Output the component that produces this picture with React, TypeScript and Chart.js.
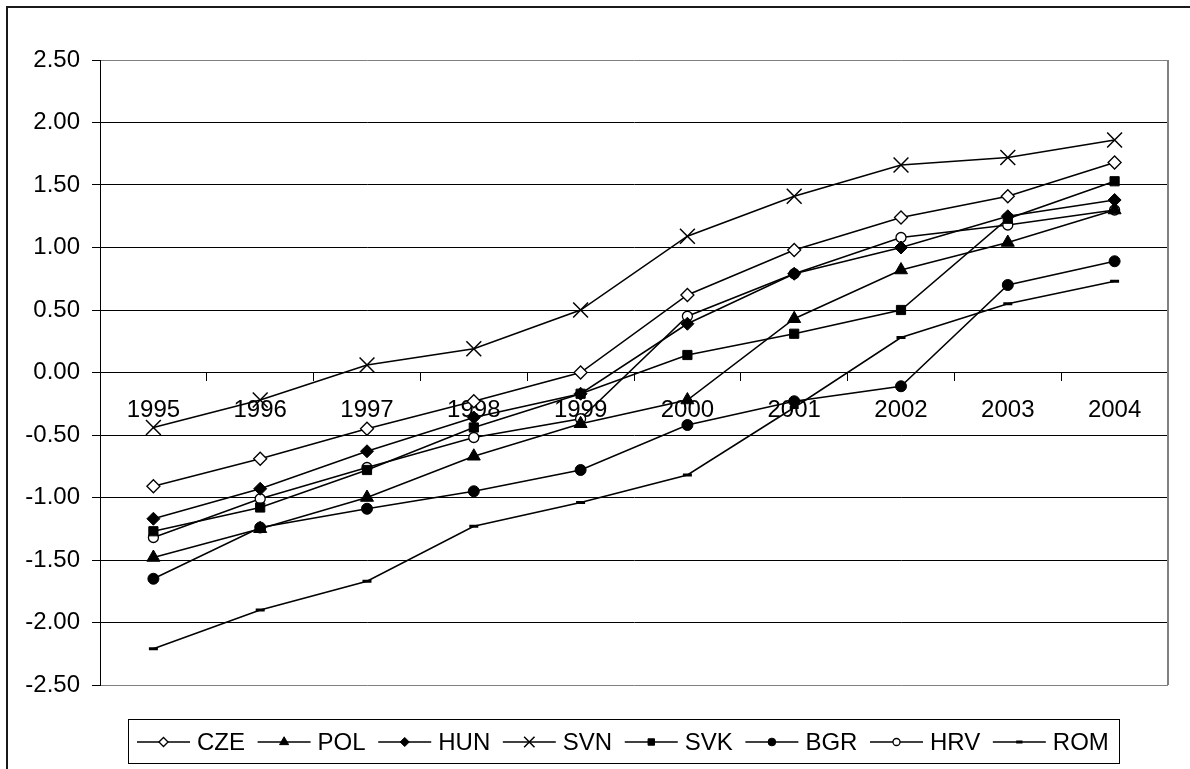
import React, { useEffect, useRef } from 'react';
import { Chart, registerables } from 'chart.js';
import { drawPoint } from 'chart.js/helpers';

Chart.register(...registerables);

const years = ['1995', '1996', '1997', '1998', '1999', '2000', '2001', '2002', '2003', '2004'];
const seriesNames = ['CZE', 'POL', 'HUN', 'SVN', 'SVK', 'BGR', 'HRV', 'ROM'];

const CZE = [-0.91, -0.69, -0.45, -0.23, 0.0, 0.62, 0.98, 1.24, 1.41, 1.68];
const POL = [-1.48, -1.25, -1.0, -0.67, -0.41, -0.22, 0.43, 0.82, 1.04, 1.3];
const HUN = [-1.17, -0.93, -0.63, -0.36, -0.17, 0.39, 0.79, 1.0, 1.25, 1.38];
const SVN = [-0.44, -0.22, 0.06, 0.19, 0.5, 1.09, 1.41, 1.66, 1.72, 1.86];
const SVK = [-1.27, -1.08, -0.78, -0.44, -0.17, 0.14, 0.31, 0.5, 1.23, 1.53];
const BGR = [-1.65, -1.24, -1.09, -0.95, -0.78, -0.42, -0.23, -0.11, 0.7, 0.89];
const HRV = [-1.32, -1.01, -0.76, -0.52, -0.37, 0.45, 0.79, 1.08, 1.18, 1.3];
const ROM = [-2.21, -1.9, -1.67, -1.23, -1.04, -0.82, -0.28, 0.28, 0.55, 0.73];

const seriesValues = [CZE, POL, HUN, SVN, SVK, BGR, HRV, ROM];

const yMin = -2.5;
const yMax = 2.5;
const yStep = 0.5;

const FONT = "'Liberation Sans', Arial, sans-serif";

const markerStyles = [
  { style: 'rectRot', r: 6.5, fill: '#ffffff', bw: 1.3 },
  { style: 'triangle', r: 7.5, fill: '#000000', bw: 1 },
  { style: 'rectRot', r: 6.5, fill: '#000000', bw: 1 },
  { style: 'crossRot', r: 10.5, fill: '#000000', bw: 1.5 },
  { style: 'rect', r: 6.5, fill: '#000000', bw: 1 },
  { style: 'circle', r: 5.5, fill: '#000000', bw: 1 },
  { style: 'circle', r: 5, fill: '#ffffff', bw: 1.3 },
  { style: 'line', r: 4.5, fill: '#000000', bw: 3 },
];

const backgroundPlugin = {
  id: 'bgBorder',
  beforeDraw(chart: any) {
    const ctx = chart.ctx;
    ctx.save();
    ctx.fillStyle = '#ffffff';
    ctx.fillRect(0, 0, chart.width, chart.height);
    ctx.fillStyle = '#1a1a1a';
    ctx.fillRect(6, 6, chart.width - 6, 2);
    ctx.fillRect(6, 6, 2, chart.height - 6);
    ctx.restore();
  },
  afterDatasetsDraw(chart: any) {
    const { ctx, chartArea } = chart;
    ctx.save();
    ctx.strokeStyle = '#808080';
    ctx.lineWidth = 2;
    ctx.beginPath();
    ctx.moveTo(chartArea.right, chartArea.top);
    ctx.lineTo(chartArea.right, chartArea.bottom);
    ctx.stroke();
    ctx.restore();
  },
};

const legendPlugin = {
  id: 'boxLegend',
  afterDraw(chart: any) {
    const ctx = chart.ctx;
    ctx.save();
    ctx.strokeStyle = '#000000';
    ctx.lineWidth = 1;
    ctx.strokeRect(128.5, 719.5, 991, 44);
    ctx.font = `24px ${FONT}`;
    ctx.textBaseline = 'middle';
    ctx.textAlign = 'left';
    const y = 742;
    let x = 137;
    const lineLen = 53;
    chart.data.datasets.forEach((ds: any, i: number) => {
      const m = markerStyles[i];
      ctx.strokeStyle = '#000000';
      ctx.lineWidth = 1.5;
      ctx.beginPath();
      ctx.moveTo(x, y);
      ctx.lineTo(x + lineLen, y);
      ctx.stroke();
      ctx.fillStyle = m.fill;
      ctx.strokeStyle = '#000000';
      ctx.lineWidth = m.bw;
      drawPoint(ctx, { pointStyle: m.style, radius: m.r * 0.7, rotation: 0, borderWidth: m.bw } as any, x + lineLen / 2, y);
      ctx.fillStyle = '#000000';
      const label = ds.label as string;
      ctx.fillText(label, x + lineLen + 7, y + 1);
      x += lineLen + 7 + ctx.measureText(label).width + 12.6;
    });
    ctx.restore();
  },
};

export default function App() {
  const ref = useRef<HTMLCanvasElement>(null);

  useEffect(() => {
    if (!ref.current) return;
    const datasets = seriesNames.map((name, i) => {
      const m = markerStyles[i];
      return {
        label: name,
        data: seriesValues[i],
        borderColor: '#000000',
        borderWidth: 1.5,
        backgroundColor: m.fill,
        pointStyle: m.style as any,
        pointRadius: m.r,
        pointHoverRadius: m.r,
        pointBackgroundColor: m.fill,
        pointBorderColor: '#000000',
        pointBorderWidth: m.bw,
        fill: false,
        tension: 0,
      };
    });

    const chart = new Chart(ref.current, {
      type: 'line',
      data: { labels: years, datasets },
      plugins: [backgroundPlugin, legendPlugin],
      options: {
        responsive: false,
        animation: false,
        devicePixelRatio: 1,
        layout: { padding: { left: 0, top: 60, right: 22, bottom: 84 } },
        plugins: {
          legend: { display: false },
          tooltip: { enabled: false },
          title: { display: false },
        },
        scales: {
          x: {
            type: 'category',
            position: { y: 0 } as any,
            offset: true,
            grid: {
              display: true,
              drawOnChartArea: false,
              drawTicks: true,
              tickLength: 8,
              tickColor: '#000000',
              offset: true,
            },
            border: { display: true, color: '#000000', width: 1 },
            ticks: {
              color: '#000000',
              font: { family: FONT, size: 24 },
              padding: 15,
              maxRotation: 0,
              autoSkip: false,
            },
          },
          y: {
            type: 'linear',
            position: 'left',
            min: yMin,
            max: yMax,
            afterFit: (scale: any) => {
              scale.width = 100;
            },
            grid: {
              display: true,
              color: (ctx: any) =>
                ctx.tick && (ctx.tick.value === yMax || ctx.tick.value === yMin) ? '#808080' : '#000000',
              lineWidth: 1,
              drawTicks: true,
              tickLength: 8,
              tickColor: '#000000',
            },
            border: { display: true, color: '#000000', width: 1 },
            ticks: {
              stepSize: yStep,
              color: '#000000',
              font: { family: FONT, size: 24 },
              padding: 12,
              callback: (v: any) => Number(v).toFixed(2),
            },
          },
        },
      } as any,
    });
    return () => chart.destroy();
  }, []);

  return (
    <canvas
      ref={ref}
      width={1190}
      height={769}
      style={{ position: 'absolute', left: 0, top: 0, width: 1190, height: 769 }}
    />
  );
}
